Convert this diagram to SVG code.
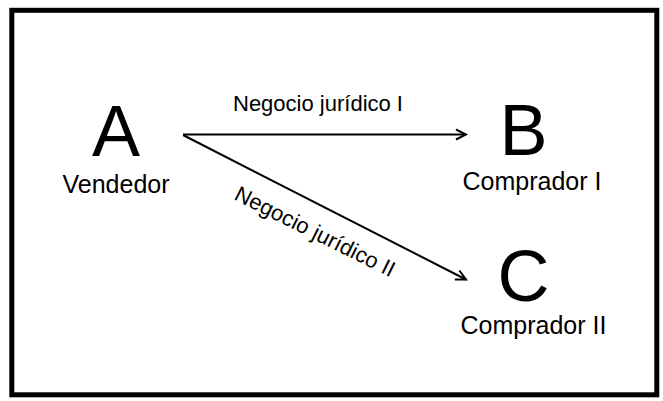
<svg xmlns="http://www.w3.org/2000/svg" width="663" height="401" viewBox="0 0 663 401">
<style>
text{font-family:"Liberation Sans",Arial,sans-serif;fill:#000}
.big{font-size:72px}
.lbl{font-size:25px}
.edge{font-size:22px}
.conn{stroke:#000;stroke-width:2;fill:none}
</style>
<defs>
<marker id="arr" markerUnits="userSpaceOnUse" markerWidth="14" markerHeight="14" viewBox="-12 -7 14 14" refX="0" refY="0" orient="auto">
<path d="M-10,-5 L0,0 L-10,5" fill="none" stroke="#000" stroke-width="2"/>
</marker>
</defs>
<rect x="0" y="0" width="663" height="401" fill="#fff"/>
<rect x="11.8" y="10.3" width="645" height="384.5" fill="none" stroke="#000" stroke-width="5"/>
<g id="connectors">
<line class="conn" x1="183" y1="134.5" x2="466" y2="134.5" marker-end="url(#arr)"/>
<line class="conn" x1="183" y1="135" x2="466" y2="279.5" marker-end="url(#arr)"/>
<text class="edge" x="233" y="111">Negocio jurídico I</text>
<text class="edge" x="233" y="199" transform="rotate(26.5 233 199)">Negocio jurídico II</text>
</g>
<g id="nodeA">
<text class="big" x="116" y="156" text-anchor="middle">A</text>
<text class="lbl" x="116" y="193" text-anchor="middle">Vendedor</text>
</g>
<g id="nodeB">
<text class="big" x="523.5" y="155" text-anchor="middle">B</text>
<text class="lbl" x="532" y="190" text-anchor="middle">Comprador I</text>
</g>
<g id="nodeC">
<text class="big" x="523.5" y="301" text-anchor="middle">C</text>
<text class="lbl" x="533.5" y="334" text-anchor="middle">Comprador II</text>
</g>
</svg>
